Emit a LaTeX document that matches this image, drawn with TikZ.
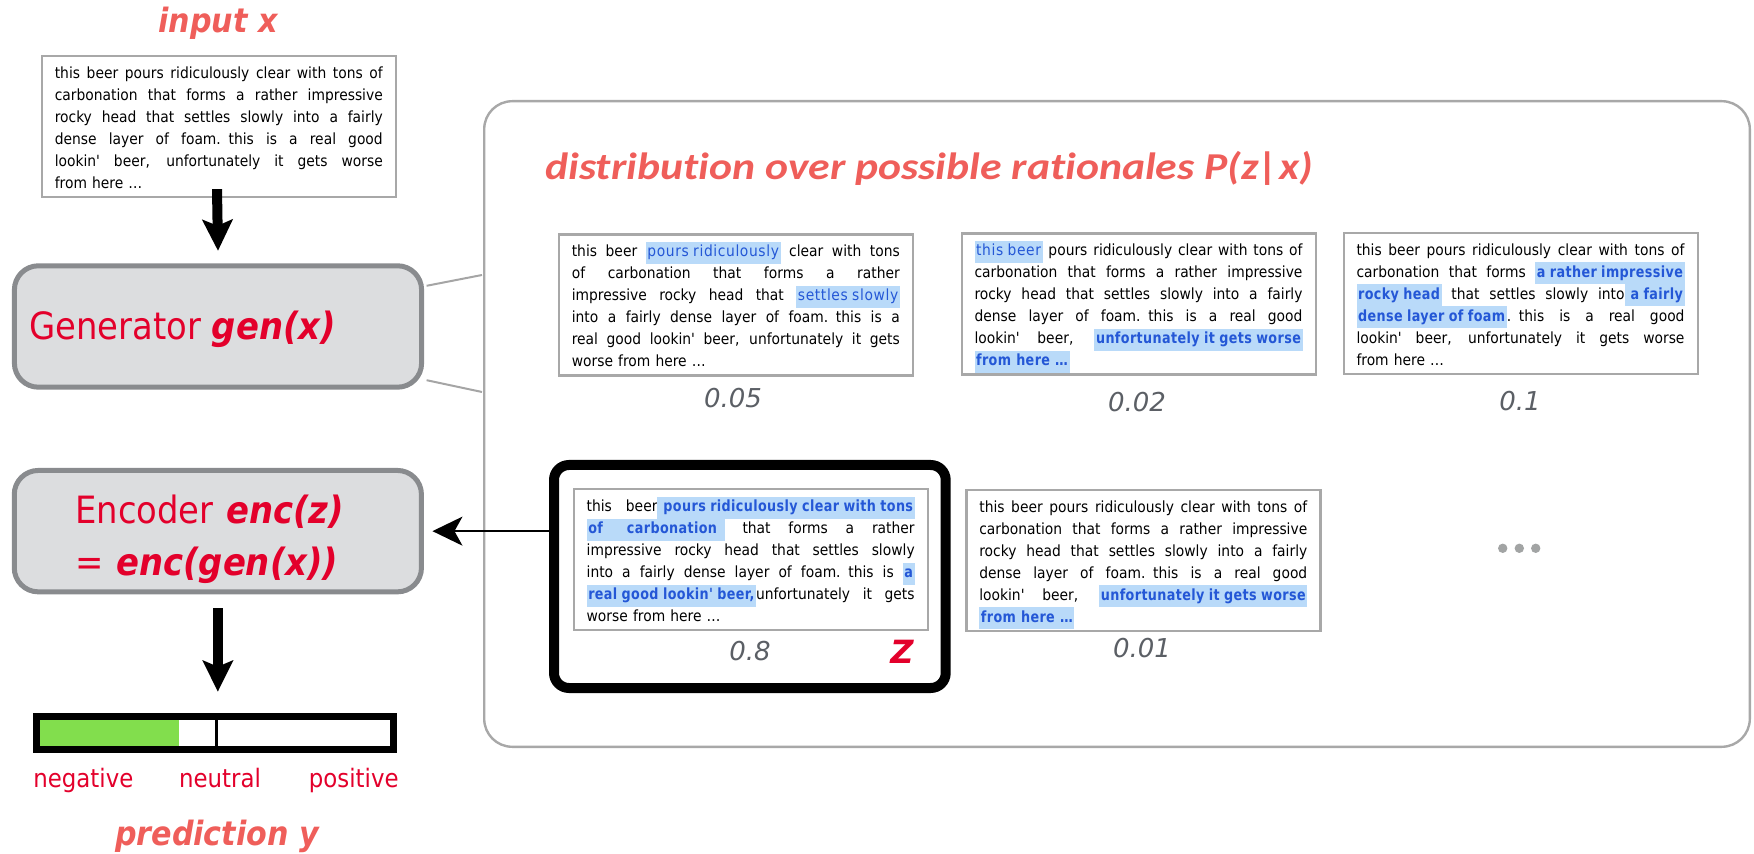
\documentclass[tikz,border=0pt]{standalone}
\usepackage{fontspec}
\usetikzlibrary{arrows.meta,calc}
\setmainfont{DejaVu Sans Condensed}
\newfontfamily\condfont{DejaVu Sans Condensed}
\newfontfamily\hlfont[LetterSpace=4]{DejaVu Sans Condensed}
\newfontfamily\hlboldfont[FakeStretch=0.92,LetterSpace=2.5]{DejaVu Sans Condensed Bold}
\newfontfamily\widefont{DejaVu Sans}
\newfontfamily\titlefont[FakeStretch=1.15,Ligatures={NoCommon}]{Carlito}

\definecolor{salmon}{RGB}{239,94,90}
\definecolor{labelred}{RGB}{227,0,43}
\definecolor{boxgray}{RGB}{168,168,168}
\definecolor{genfill}{RGB}{220,221,223}
\definecolor{gendraw}{RGB}{137,139,142}
\definecolor{probgray}{RGB}{91,95,101}
\definecolor{hlfill}{RGB}{185,218,249}
\definecolor{hltext}{RGB}{36,87,214}
\definecolor{barfill}{RGB}{130,222,77}
\definecolor{dotgray}{RGB}{162,164,164}
\definecolor{linkgray}{RGB}{165,165,165}

% highlighted span of a review (regular and bold)
\newcommand\hlbox[1]{{\setlength{\fboxsep}{0.8pt}\colorbox{hlfill}{\rule[-2.7pt]{0pt}{9.3pt}\color{hltext}#1}}}
\newcommand\hl[1]{\hlbox{\hlfont#1}}
\newcommand\hlb[1]{\hlbox{\hlboldfont#1}}
% one justified line of a review: every interword space stretches alike
\newlength\revwidth
\setlength\revwidth{164pt}
\newcommand\jl[1]{\leavevmode\hbox to \revwidth{\spaceskip=\fontdimen2\font plus 1fil\relax #1}\\}
\newcommand\bodyfont{\condfont\fontsize{7.7pt}{11pt}\selectfont\lineskiplimit=-100pt\lineskip=0pt}

\begin{document}
\begin{tikzpicture}[x=0.5pt,y=-0.5pt,
  txt/.style={anchor=base west, inner sep=0pt, text width=\revwidth, align=left, font=\bodyfont},
  rbox/.style={draw=boxgray, line width=1.1pt, fill=white, inner sep=0pt,
               minimum width=177pt, minimum height=70.5pt},
  module/.style={draw=gendraw, fill=genfill, line width=2.5pt, rounded corners=12pt,
                 inner sep=0pt, minimum width=203.6pt, minimum height=60.7pt},
  modlabel/.style={anchor=base west, inner sep=0pt, text=labelred, align=left,
                   font=\condfont\fontsize{18.8pt}{25.5pt}\selectfont},
  prob/.style={anchor=base, inner sep=0pt, text=probgray, font=\widefont\itshape\fontsize{13pt}{15pt}\selectfont},
  heading/.style={anchor=base, inner sep=0pt, text=salmon, font=\condfont\bfseries\itshape\fontsize{16.75pt}{20pt}\selectfont},
  polarity/.style={anchor=base, inner sep=0pt, text=labelred, font=\condfont\fontsize{12.7pt}{15pt}\selectfont},
  fatarrow/.style={line width=5pt, -{Stealth[length=15.5pt,width=15pt,inset=3pt]}},
  thinarrow/.style={line width=0.75pt, -{Stealth[length=15pt,width=14.5pt,inset=4pt]}},
  link/.style={draw=linkgray, line width=1pt}]

\useasboundingbox (0,0) rectangle (1754,854);

% ---------- left column: input, generator, encoder, prediction ----------
\node[heading] (inlabel) at (218,33) {input x};
\node[rbox] (input) at (219,126.5) {};
\node[txt] (intext) at ($(input.north west)+(13.5,23.5)$) {%
\jl{this beer pours ridiculously clear with tons of}
\jl{carbonation that forms a rather impressive}
\jl{rocky head that settles slowly into a fairly}
\jl{dense layer of foam. this is a real good}
\jl{lookin'  beer, unfortunately it gets worse}
from here …};

\node[module] (gen) at (218,326.5) {};
\node[modlabel] (genlabel) at (29,340) {Generator \textbf{\textit{gen(x)}}};

\node[module] (enc) at (217.85,531.15) {};
\node[modlabel, text width=180pt] (enclabel) at (75,524) {Encoder \textbf{\textit{enc(z)}}\\= \textbf{\textit{enc(gen(x))}}};

\draw[fatarrow] ($(input.south)+(-2,-9)$) -- ($(gen.north)+(0,-12.5)$);

% prediction bar
\node[draw=black, line width=3.5pt, inner sep=0pt, minimum width=178.35pt, minimum height=16.8pt] (bar) at (214.85,733) {};
\fill[barfill] (40,719.7) rectangle (179,746.3);
\draw[line width=1.5pt] (216,719.7) -- (216,746.3);
\draw[fatarrow] ($(enc.south)+(0,14)$) -- ($(enc.south |- bar.north)+(0,-21)$);

\node[polarity, anchor=base west] (neg) at (33,787) {negative};
\node[polarity] (neu) at (220,787) {neutral};
\node[polarity, anchor=base east] (pos) at (399,787) {positive};
\node[heading] (predlabel) at (217,845) {prediction y};

% ---------- right panel: distribution over rationales ----------
\node[draw=boxgray, line width=1.2pt, rounded corners=14pt, inner sep=0pt,
      minimum width=632.8pt, minimum height=322.8pt] (dist) at (1117,424) {};
\node[anchor=base west, inner sep=0pt, text=salmon,
      font=\titlefont\bfseries\itshape\fontsize{19pt}{22pt}\selectfont] (disttitle) at (545,180)
      {distribution over possible rationales P(z|x)};

\draw[link] ($(gen.north east)+(2.5,22.5)$) -- ($(dist.north west)+(-1,175)$);
\draw[link] ($(gen.south east)+(2.5,-9.5)$) -- ($(dist.north west)+(-1,292)$);

% rationale A
\node[rbox] (ra) at (736,305) {};
\node[txt] (ta) at ($(ra.north west)+(13.5,23.5)$) {%
\jl{this beer \hl{pours ridiculously} clear with tons}
\jl{of carbonation that forms a rather}
\jl{impressive rocky head that \hl{settles slowly}}
\jl{into a fairly dense layer of foam. this is a}
\jl{real good lookin' beer, unfortunately it gets}
worse from here …};
\node[prob] (pa) at (733,408) {0.05};

% rationale B
\node[rbox] (rb) at (1138.7,304) {};
\node[txt] (tb) at ($(rb.north west)+(13.5,23.5)$) {%
\jl{\hl{this beer} pours ridiculously clear with tons of}
\jl{carbonation that forms a rather impressive}
\jl{rocky head that settles slowly into a fairly}
\jl{dense layer of foam. this is a real good}
\jl{lookin' beer, \hlb{unfortunately it gets worse}}
\hlb{from here …}};
\node[prob] (pb) at (1137,412) {0.02};

% rationale C
\node[rbox] (rc) at (1520.7,303.4) {};
\node[txt] (tc) at ($(rc.north west)+(13.5,23.5)$) {%
\jl{this beer pours ridiculously clear with tons of}
\jl{carbonation that forms \hlb{a rather impressive}}
\jl{\hlb{rocky head} that settles slowly into\hlb{ a fairly}}
\jl{\hlb{dense layer of foam}. this is a real good}
\jl{lookin' beer, unfortunately it gets worse}
from here …};
\node[prob] (pc) at (1520,410.7) {0.1};

% rationale D, the sampled one
\node[draw=black, line width=5pt, rounded corners=7.5pt, inner sep=0pt, fill=white,
      minimum width=195.85pt, minimum height=111.5pt] (frame) at (749.85,576.5) {};
\node[rbox] (rd) at (750.85,559.7) {};
\node[txt] (td) at ($(rd.north west)+(13.5,23.5)$) {%
\jl{this beer\hlb{ pours ridiculously clear with tons}}
\jl{\hlb{of\hspace{12pt}carbonation\hspace{3pt}} that forms a rather}
\jl{impressive rocky head that settles slowly}
\jl{into a fairly dense layer of foam. this is \hlb{a}}
\jl{\hlb{real good lookin' beer,}unfortunately it gets}
worse from here …};
\node[prob] (pd) at (750,660) {0.8};
\node[anchor=base, inner sep=0pt, text=labelred,
      font=\widefont\bfseries\itshape\fontsize{16pt}{18pt}\selectfont] (zlabel) at (902,663) {Z};

% rationale E
\node[rbox] (re) at (1143.5,560.3) {};
\node[txt] (te) at ($(re.north west)+(13.5,23.5)$) {%
\jl{this beer pours ridiculously clear with tons of}
\jl{carbonation that forms a rather impressive}
\jl{rocky head that settles slowly into a fairly}
\jl{dense layer of foam. this is a real good}
\jl{lookin' beer, \hlb{unfortunately it gets worse}}
\hlb{from here …}};
\node[prob] (pe) at (1142,657) {0.01};

% more rationales
\fill[dotgray] (1502.7,548.3) circle[radius=2.35pt]
               (1519.3,548.3) circle[radius=2.35pt]
               (1535.7,548.3) circle[radius=2.35pt];

% the sampled rationale goes to the encoder
\draw[thinarrow, shorten >=4.25pt] (frame.west |- enc.east) -- (enc.east);

\end{tikzpicture}
\end{document}
